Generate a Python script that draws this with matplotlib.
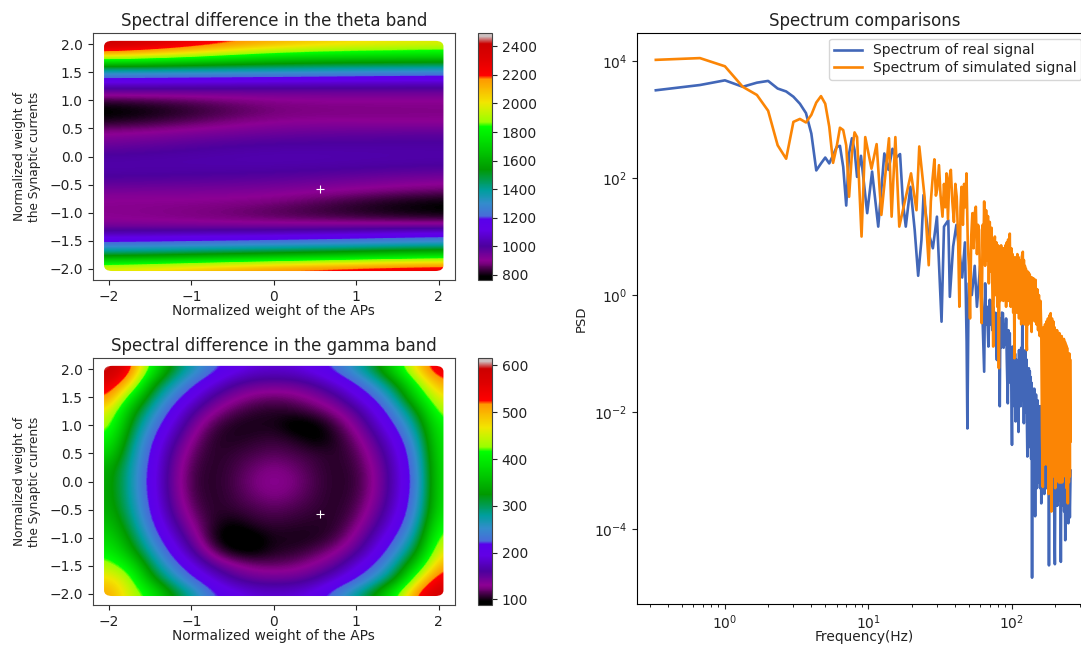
import matplotlib
matplotlib.use('Agg')
import matplotlib.pyplot as plt
import numpy as np
from matplotlib.colors import LinearSegmentedColormap
from matplotlib.patches import FancyBboxPatch
from matplotlib.ticker import NullLocator, LogLocator

# grid of the theta map, rows from y=2 down to y=-2, columns x=-2,-1,0,1,2
theta_x = [-2, -1, 0, 1, 2]
theta_y = [2.0, 1.8, 1.6, 1.4, 1.2, 1.0, 0.8, 0.6, 0.4, 0.2, 0.0,
           -0.2, -0.4, -0.6, -0.8, -1.0, -1.2, -1.4, -1.6, -1.8, -2.0]
theta_map = [
    [2470, 2280, 2120, 2030, 1980],
    [2100, 1950, 1780, 1760, 1750],
    [1530, 1500, 1470, 1440, 1420],
    [1200, 1190, 1180, 1165, 1150],
    [1000, 990, 980, 980, 980],
    [830, 860, 900, 900, 900],
    [770, 820, 880, 885, 890],
    [810, 860, 910, 905, 900],
    [900, 930, 960, 970, 980],
    [950, 990, 1010, 1010, 1010],
    [1010, 1020, 1030, 1025, 1020],
    [1020, 1020, 1020, 1010, 1000],
    [1000, 990, 980, 955, 930],
    [940, 935, 930, 900, 870],
    [900, 900, 890, 830, 790],
    [900, 885, 850, 810, 780],
    [910, 900, 890, 885, 880],
    [1050, 1065, 1080, 1110, 1150],
    [1270, 1300, 1330, 1360, 1400],
    [1550, 1600, 1650, 1720, 1800],
    [2000, 2100, 2200, 2260, 2300],
]

# grid of the gamma map, step 0.25, rows from y=2 down to y=-2
gamma_x = [-2, -1.75, -1.5, -1.25, -1, -0.75, -0.5, -0.25, 0, 0.25, 0.5, 0.75, 1, 1.25, 1.5, 1.75, 2]
gamma_y = [2, 1.75, 1.5, 1.25, 1, 0.75, 0.5, 0.25, 0, -0.25, -0.5, -0.75, -1, -1.25, -1.5, -1.75, -2]
gamma_map = [
    [612, 540, 410, 320, 270, 230, 207, 190, 186, 190, 207, 230, 270, 320, 400, 490, 560],
    [560, 490, 340, 278, 228, 194, 162, 149, 147, 149, 162, 190, 222, 268, 330, 430, 510],
    [525, 398, 303, 242, 197, 155, 134, 122, 118, 122, 134, 152, 190, 230, 290, 385, 470],
    [465, 345, 272, 213, 162, 131, 114, 106, 103, 106, 114, 128, 155, 200, 255, 328, 440],
    [440, 320, 247, 190, 142, 112, 102, 100, 102, 88, 92, 110, 136, 178, 228, 298, 410],
    [410, 300, 228, 170, 127, 105, 102, 106, 108, 104, 92, 103, 122, 158, 206, 275, 400],
    [380, 286, 216, 155, 118, 104, 108, 112, 116, 112, 108, 104, 114, 145, 192, 258, 395],
    [345, 278, 210, 148, 112, 104, 110, 120, 126, 120, 110, 104, 110, 136, 185, 250, 390],
    [340, 275, 207, 146, 110, 104, 112, 124, 132, 124, 112, 104, 108, 134, 182, 245, 390],
    [340, 278, 210, 148, 112, 104, 110, 120, 126, 120, 110, 104, 110, 136, 185, 250, 390],
    [345, 286, 216, 155, 118, 104, 108, 112, 116, 112, 108, 104, 114, 145, 192, 258, 395],
    [360, 300, 228, 170, 127, 105, 95, 106, 108, 106, 104, 105, 122, 158, 206, 275, 415],
    [380, 320, 247, 190, 142, 100, 86, 90, 102, 100, 102, 110, 136, 178, 228, 298, 440],
    [405, 345, 272, 213, 162, 118, 95, 92, 103, 106, 114, 128, 155, 200, 255, 328, 470],
    [440, 398, 303, 242, 197, 155, 134, 122, 118, 122, 134, 152, 190, 230, 290, 385, 510],
    [480, 440, 340, 278, 228, 194, 162, 149, 147, 149, 162, 190, 222, 268, 330, 470, 555],
    [510, 450, 410, 330, 280, 225, 207, 190, 186, 190, 205, 240, 285, 340, 430, 540, 590],
]

theta_ticks = [800, 1000, 1200, 1400, 1600, 1800, 2000, 2200, 2400]
gamma_ticks = [100, 200, 300, 400, 500, 600]
best_point = [0.56, -0.58]

freq_real = [0.33, 0.67, 1.0, 1.33, 1.67, 2.0, 2.33, 2.67, 3.0, 3.33, 3.67, 4.0, 4.33, 4.67, 5.0, 5.33, 5.67,
             6.0, 6.33, 6.67, 7.0, 7.33, 7.67, 8.0, 8.33, 8.87, 9.8, 10.6, 11.7, 12.9, 13.8, 14.7, 15.5, 16.6,
             17.4, 18.2, 19.6, 21, 22.2, 23.4, 24.2, 25.9, 28.1, 30, 32.3, 33.6, 36, 36.9, 38.9, 41, 43.7, 45,
             47, 48.3, 48.9, 49.9, 52.5, 55, 57, 60, 62,
             64, 65, 66, 67, 68.5, 70, 71, 72, 73, 74, 75, 76, 77, 78.5, 79.5, 80.5, 81.5, 82.2, 83, 84, 85, 86.5,
             87.5, 88.5, 90, 91, 92, 93.5, 94.5, 95.5, 96.5, 97.5, 98.5, 99, 100, 101, 102, 103, 104, 105, 106, 107,
             108.5, 109.5, 110, 111, 112, 113, 114, 115, 116, 117, 118, 119, 120, 121, 122, 123, 124, 125, 126, 127,
             128, 129, 130, 131, 132, 133, 134, 135, 136, 137, 138, 139, 141, 143, 145, 147, 149, 151, 153, 155, 157,
             159, 160, 162, 164, 166, 168, 170, 172, 174, 176, 178, 180, 181, 183, 185, 187, 189, 191, 193, 195, 197,
             199, 201, 203, 205, 207, 209, 211, 213, 215, 217, 219, 221, 223, 225, 227, 229, 231, 233, 235, 238, 241,
             244, 247, 250, 253, 256]
log_psd_real = [3.50, 3.59, 3.67, 3.56, 3.63, 3.66, 3.53, 3.48, 3.39, 3.27, 3.11, 2.76, 2.13, 2.25, 2.35, 2.25, 2.39,
                2.53, 2.55, 2.19, 1.53, 2.42, 2.68, 2.48, 2.02, 2.38, 1.40, 2.11, 1.17, 2.42, 2.14, 2.50, 2.34, 2.41,
                1.57, 1.17, 1.85, 1.11, 0.33, 0.94, 1.71, 1.11, 0.80, 1.34, -0.455, 1.17, 1.28, -0.03, 0.83, 1.20, 0.60, 0.3,
                0.9, -0.80, -2.28, 0.2, 0.0, 0.5, -0.2, 0.5, -0.2,
                -1.31, 0.2, -0.5, -0.2, -0.88, -0.08, -0.5, -0.1, -0.6, -0.2, -0.5, -0.3, -0.7, -1.11, -0.3, -0.7, -0.4, -1.90, -0.4, -0.9, -0.3, -0.31,
                -0.9, -0.5, -0.85, -0.4, -1.1, -1.85, -0.6, -1.2, -0.65, -1.5, -0.9, -1.6, -2.56, -0.88, -1.7, -0.9, -1.9, -1.0, -2.16, -1.1,
                -1.17, -1.9, -1.3, -2.34, -0.94, -1.8, -1.0, -1.9, -0.9, -1.8, -0.48, -1.7, -1.0, -2.19, -1.0, -2.0, -0.94, -2.0, -1.1, -2.1,
                -2.76, -1.3, -2.3, -1.25, -2.4, -1.3, -2.6, -1.4, -2.8, -1.5, -4.83, -1.6, -3.0, -1.6, -3.78, -1.7, -3.3, -1.8, -3.2, -1.9, -3.3,
                -1.9, -3.56, -2.0, -3.3, -2.0, -3.4, -2.0, -3.3, -2.1, -3.3, -2.2, -3.4, -4.62, -2.3, -3.5, -2.3, -3.5, -2.4, -3.6, -2.4, -3.7,
                -4.6, -2.5, -3.6, -2.5, -3.6, -2.5, -3.5, -2.6, -3.5, -2.7, -4.56, -2.8, -3.6, -2.8, -3.6, -2.9, -3.7, -3.0, -4.19, -3.0, -3.7,
                -2.9, -3.9, -3.0, -3.8, -3.0]

freq_sim = [0.33, 0.67, 1.0, 1.33, 1.67, 2.0, 2.33, 2.67, 3.0, 3.33, 3.67, 4.0, 4.33, 4.67, 5.0, 5.33, 5.67,
            6.0, 6.33, 6.67, 7.0, 7.33, 7.67, 8.0, 8.33, 8.95, 9.5, 10.5, 11.4, 12.3, 13.9, 14.5, 15.4, 16.4,
            18, 19.8, 21.6, 22.6, 24.6, 26.3, 27.2, 28, 28.8, 29.5, 30.1, 31, 31.8, 32.8, 33.6, 34.3, 35, 35.8,
            36.6, 37.5, 38.4, 39.4, 40.3, 41.2, 42.1, 43, 43.8, 44.5, 45.5, 46.4, 47.3, 48.2, 49.2, 50.1, 51, 52,
            53, 54, 55, 56, 57, 58, 59, 60, 61.5, 62.5, 63.2, 64, 65, 66, 67, 68, 69, 70, 71, 72, 73, 74, 75, 76,
            77, 78, 79, 80, 81, 82, 83, 84, 85, 86, 87, 88, 89, 90, 91, 92, 93, 94, 95, 96.5, 98, 99, 100, 101,
            102, 103, 104, 105, 106, 107, 108, 109, 110, 111, 112, 113, 114, 115, 116, 117, 119, 120, 121, 122, 123,
            124, 125, 126, 127, 128, 129, 130, 131, 132, 133, 134, 135, 137, 138, 140, 142, 144, 146, 148, 150, 152,
            154, 156, 158, 160, 162, 164, 166, 168, 170, 172, 174, 176, 178, 180, 182, 184, 186, 188, 190, 192, 194,
            196, 198, 200, 202, 204, 206, 208, 210, 212, 214, 216, 218, 220, 222, 224, 226, 228, 230, 232, 234, 236,
            238, 240, 242, 245, 247, 249, 251, 253, 254, 256]
log_psd_sim = [4.02, 4.05, 3.91, 3.56, 3.42, 3.15, 2.56, 2.33, 2.96, 3.01, 2.95, 3.08, 3.29, 3.40, 3.27, 2.88, 2.26,
               2.53, 2.86, 2.82, 2.56, 1.68, 2.42, 2.78, 2.70, 1.0, 2.70, 2.16, 2.58, 1.37, 2.68, 1.34, 2.70, 1.17,
               1.62, 2.08, 1.45, 2.54, 1.68, 0.51, 1.6, 2.0, 2.32, 1.7, 1.80, 2.22, 1.7, 1.34, 1.9, 1.5, 2.08, 1.3,
               2.0, 2.14, 1.6, 1.25, 1.9, 1.68, 1.0, -0.20, 1.5, 1.85, 1.2, 1.9, 1.5, 2.08, 0.9, 0.5, -0.40, 1.0,
               1.4, 0.8, 1.4, 1.51, 0.7, 1.2, 1.11, 0.2, -0.48, 1.2, 0.7, 1.60, 0.5, 1.45, 0.6, 1.35, 0.2, 1.25, 0.4, 1.15, 0.1, -0.88, 0.8, 1.0,
               0.0, 0.9, -0.2, 0.85, -1.25, 0.8, -0.1, 0.85, 0.2, 0.8, -0.1, 0.8, 0.1, 0.85, -0.2, 0.9, 0.0, 0.95, -0.1, 1.05, -0.2, 0.8, -0.1, 0.7,
               -0.3, 0.65, -1.08, 0.6, -0.2, 0.65, -0.3, 0.7, -0.3, 0.65, -0.4, 0.6, -0.3, 0.55, -0.5, 0.65, 0.74, -0.4, 0.6, -0.5, 0.5,
               -0.4, 0.45, -0.7, -0.94, 0.3, 0.40, -0.5, 0.38, -0.4, 0.35, -0.45, 0.3, -0.63, 0.3, -0.4, 0.28, -0.45, 0.26, -0.5, 0.1, -0.6,
               0.0, -0.7, -0.1, -0.6, -2.4, -3.28, -0.55, -2.9, -0.5, -2.6, -0.45, -2.9, -0.4, -3.4, -0.35, -3.0, -0.31, -3.7, -0.4, -3.0, -0.45,
               -3.1, -0.55, -3.3, -0.6, -3.1, -0.6, -3.1, -0.65, -3.2, -0.65, -3.2, -0.7, -3.2, -0.7, -3.2, -0.75, -3.1, -0.75, -3.0, -0.8, -3.1,
               -0.85, -3.3, -0.9, -3.56, -1.0, -3.2, -1.0, -3.1, -1.1, -2.5]

# colours, (fraction of the bar, colour)
bar_colors = [(0.0, (0, 0, 0)), (0.015, (0, 0, 0)), (0.067, (0.48, 0, 0.5)), (0.08, (0.55, 0, 0.58)),
              (0.136, (0.3, 0, 0.62)), (0.2, (0.38, 0, 0.9)), (0.246, (0.35, 0, 0.92)), (0.258, (0.28, 0.42, 0.85)),
              (0.31, (0.2, 0.55, 0.8)), (0.362, (0, 0.62, 0.62)), (0.448, (0, 0.6, 0)), (0.53, (0, 0.8, 0)),
              (0.622, (0, 1, 0)), (0.64, (0.6, 1, 0)), (0.686, (0.8, 0.95, 0)), (0.72, (0.95, 0.9, 0)),
              (0.813, (1, 0.6, 0)), (0.828, (1, 0, 0)), (0.9, (0.87, 0, 0)), (0.958, (0.8, 0, 0)),
              (0.987, (0.8, 0.75, 0.75)), (1.0, (0.8, 0.75, 0.75))]
spectral = LinearSegmentedColormap.from_list('bar', bar_colors, N=512)

W, H = 1081, 645
grey = '#444444'
text_col = '#222222'


def box(left, top, right, bottom):
    # axes rectangle from pixel edges
    return [left / W, 1 - bottom / H, (right - left) / W, (bottom - top) / H]


def draw_map(ax_box, cax_box, values, xs, ys, vmin, vmax, ticks, title):
    ax = fig.add_axes(ax_box)
    dx = abs(xs[1] - xs[0]) / 2
    dy = abs(ys[1] - ys[0]) / 2
    im = ax.imshow(np.array(values, dtype=float), cmap=spectral, vmin=vmin, vmax=vmax, aspect='auto',
                   interpolation='bicubic', interpolation_stage='data',
                   extent=[xs[0] - dx, xs[-1] + dx, ys[-1] - dy, ys[0] + dy])
    # the points were drawn as fat dots, so the field has rounded corners
    patch = FancyBboxPatch((-2.0, -1.98), 4.0, 3.98, boxstyle='round,pad=0.06,rounding_size=0.1',
                           transform=ax.transData, fc='none', ec='none')
    ax.add_patch(patch)
    im.set_clip_path(patch)
    ax.plot([best_point[0]], [best_point[1]], marker='+', color='white', ms=5.5, mew=0.8, ls='none')
    ax.set_xlim(-2.2, 2.2)
    ax.set_ylim(-2.2, 2.2)
    ax.set_xticks([-2, -1, 0, 1, 2])
    ax.set_yticks([-2, -1.5, -1, -0.5, 0, 0.5, 1, 1.5, 2])
    ax.tick_params(labelsize=10, colors=text_col, length=3.5)
    ax.set_xlabel('Normalized weight of the APs', fontsize=9.9, color=text_col, labelpad=0.3)
    ax.set_ylabel('Normalized weight of\nthe Synaptic currents', fontsize=8.7, color=text_col, labelpad=6)
    ax.set_title(title, fontsize=12, color=text_col, pad=5)
    for s in ax.spines.values():
        s.set_color(grey)

    cax = fig.add_axes(cax_box)
    cb = fig.colorbar(im, cax=cax, ticks=ticks)
    cb.ax.tick_params(labelsize=10, colors=text_col, length=3.5)
    cb.outline.set_edgecolor(grey)
    return ax


fig = plt.figure(figsize=(W / 100, H / 100), dpi=100)

draw_map(box(92.5, 33, 455, 280), box(478, 33, 492, 280), theta_map, theta_x, theta_y, 765, 2493,
         theta_ticks, 'Spectral difference in the theta band')
draw_map(box(92.5, 358, 455, 605), box(478, 358, 492, 605), gamma_map, gamma_x, gamma_y, 88, 616,
         gamma_ticks, 'Spectral difference in the gamma band')

ax3 = fig.add_axes(box(637, 33, 1092, 604))
ax3.plot(freq_real, 10.0 ** np.array(log_psd_real), color='#4267b8', lw=1.9, label='Spectrum of real signal')
ax3.plot(freq_sim, 10.0 ** np.array(log_psd_sim), color='#fb8505', lw=1.9, label='Spectrum of simulated signal')
ax3.set_xscale('log')
ax3.set_yscale('log')
ax3.set_xlim(0.244, 361)
ax3.set_ylim(10 ** -5.28, 10 ** 4.479)
ax3.set_xticks([1, 10, 100])
ax3.xaxis.set_minor_locator(LogLocator(base=10, subs=np.arange(2, 10), numticks=12))
ax3.set_yticks([1e-4, 1e-2, 1, 1e2, 1e4])
ax3.yaxis.set_minor_locator(NullLocator())
ax3.tick_params(labelsize=10, colors=text_col)
ax3.set_xlabel('Frequency(Hz)', fontsize=9.9, color=text_col, labelpad=-1.5)
ax3.set_ylabel('PSD', fontsize=9.5, color=text_col, labelpad=4)
ax3.set_title('Spectrum comparisons', fontsize=12, color=text_col, pad=5)
ax3.legend(loc='upper right', bbox_to_anchor=(0.989, 1.0), fontsize=10, labelcolor=text_col,
           labelspacing=0.25, borderpad=0.35, borderaxespad=0.4, handlelength=2.0)

fig.savefig('out.png', dpi=100)
